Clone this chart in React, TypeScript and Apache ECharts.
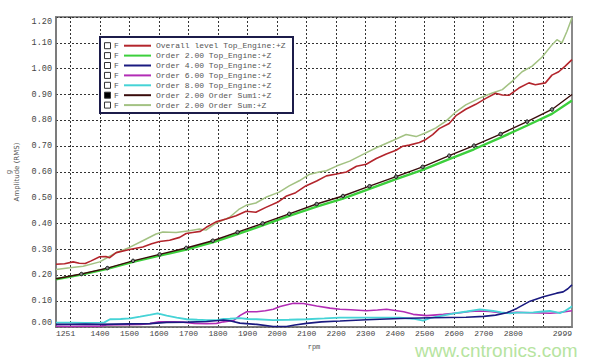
import { useEffect, useRef } from 'react';
import * as echarts from 'echarts';

// ---------- data ----------
const seriesNames = [
  'Overall level Top_Engine:+Z',
  'Order 2.00 Top_Engine:+Z',
  'Order 4.00 Top_Engine:+Z',
  'Order 6.00 Top_Engine:+Z',
  'Order 8.00 Top_Engine:+Z',
  'Order 2.00 Order Sum1:+Z',
  'Order 2.00 Order Sum:+Z',
];

const overallLevel: [number, number][] = [
  [1251, 0.243], [1280, 0.245], [1309, 0.252], [1330, 0.247], [1350, 0.246], [1370, 0.256],
  [1399, 0.272], [1420, 0.273], [1432, 0.268], [1455, 0.288], [1500, 0.300], [1545, 0.310],
  [1575, 0.322], [1602, 0.331], [1636, 0.336], [1670, 0.347], [1692, 0.362], [1714, 0.366],
  [1740, 0.370], [1760, 0.386], [1793, 0.407], [1827, 0.418], [1861, 0.431], [1895, 0.448],
  [1928, 0.444], [1962, 0.463], [2005, 0.485], [2030, 0.506], [2063, 0.520], [2097, 0.546],
  [2134, 0.565], [2167, 0.585], [2201, 0.592], [2235, 0.600], [2269, 0.622], [2302, 0.630],
  [2336, 0.652], [2370, 0.670], [2403, 0.684], [2426, 0.700], [2448, 0.704], [2482, 0.714],
  [2504, 0.726], [2527, 0.745], [2549, 0.768], [2583, 0.788], [2606, 0.818], [2639, 0.843],
  [2673, 0.862], [2707, 0.885], [2740, 0.905], [2763, 0.898], [2785, 0.897], [2819, 0.925],
  [2853, 0.945], [2875, 0.938], [2909, 0.945], [2931, 0.975], [2954, 0.988], [2976, 1.010],
  [2999, 1.035],
];

const order2Top: [number, number][] = [
  [1251, 0.185], [1337, 0.203], [1425, 0.225], [1512, 0.252], [1602, 0.276], [1692, 0.300],
  [1782, 0.328], [1866, 0.360], [1951, 0.393], [2041, 0.430], [2134, 0.466], [2223, 0.497],
  [2313, 0.535], [2403, 0.572], [2493, 0.608], [2583, 0.650], [2667, 0.688], [2757, 0.733],
  [2847, 0.780], [2931, 0.825], [2999, 0.877],
];

const order4Top: [number, number][] = [
  [1251, 0.010], [1300, 0.010], [1350, 0.011], [1400, 0.010], [1450, 0.011], [1500, 0.012],
  [1569, 0.013], [1626, 0.018], [1700, 0.019], [1761, 0.021], [1800, 0.025], [1818, 0.027],
  [1840, 0.024], [1874, 0.015], [1931, 0.010], [1987, 0.002], [2032, 0.002], [2060, 0.008],
  [2100, 0.014], [2150, 0.020], [2213, 0.023], [2303, 0.028], [2416, 0.033], [2520, 0.036],
  [2640, 0.038], [2700, 0.041], [2740, 0.046], [2778, 0.055], [2812, 0.072], [2857, 0.100],
  [2902, 0.117], [2947, 0.131], [2969, 0.136], [2985, 0.148], [2999, 0.163],
];

const order6Top: [number, number][] = [
  [1251, 0.003], [1300, 0.002], [1350, 0.003], [1400, 0.003], [1423, 0.008], [1480, 0.009],
  [1536, 0.010], [1569, 0.013], [1600, 0.020], [1650, 0.020], [1682, 0.019], [1720, 0.014],
  [1761, 0.013], [1795, 0.014], [1818, 0.020], [1852, 0.025], [1875, 0.045], [1897, 0.059],
  [1931, 0.059], [1960, 0.063], [1987, 0.069], [2010, 0.079], [2055, 0.092], [2089, 0.091],
  [2134, 0.081], [2179, 0.073], [2213, 0.069], [2250, 0.067], [2303, 0.063], [2340, 0.066],
  [2371, 0.069], [2400, 0.064], [2429, 0.059], [2461, 0.049], [2507, 0.044], [2563, 0.049],
  [2620, 0.055], [2653, 0.060], [2687, 0.062], [2721, 0.060], [2755, 0.055], [2789, 0.055],
  [2812, 0.057], [2857, 0.055], [2900, 0.054], [2924, 0.053], [2950, 0.055], [2981, 0.060],
  [2999, 0.063],
];

const order8Top: [number, number][] = [
  [1251, 0.017], [1300, 0.017], [1350, 0.016], [1400, 0.017], [1415, 0.018], [1434, 0.030],
  [1470, 0.031], [1502, 0.033], [1536, 0.040], [1569, 0.047], [1595, 0.053], [1626, 0.044],
  [1660, 0.036], [1694, 0.030], [1730, 0.028], [1761, 0.027], [1795, 0.027], [1818, 0.031],
  [1840, 0.032], [1874, 0.034], [1900, 0.031], [1931, 0.030], [1987, 0.027], [2040, 0.028],
  [2100, 0.030], [2160, 0.033], [2213, 0.036], [2303, 0.036], [2416, 0.036], [2460, 0.032],
  [2495, 0.025], [2520, 0.035], [2552, 0.042], [2600, 0.053], [2642, 0.060], [2687, 0.068],
  [2732, 0.062], [2760, 0.057], [2789, 0.053], [2812, 0.056], [2845, 0.056], [2868, 0.057],
  [2900, 0.060], [2924, 0.062], [2945, 0.058], [2958, 0.054], [2975, 0.062], [2992, 0.074],
  [2999, 0.080],
];

const orderSum1: [number, number][] = [
  [1251, 0.187], [1337, 0.205], [1425, 0.228], [1512, 0.256], [1602, 0.281], [1692, 0.306],
  [1782, 0.334], [1866, 0.367], [1951, 0.401], [2041, 0.438], [2134, 0.476], [2223, 0.507],
  [2313, 0.545], [2403, 0.582], [2493, 0.620], [2583, 0.663], [2667, 0.702], [2757, 0.747],
  [2847, 0.795], [2931, 0.842], [2999, 0.900],
];

const orderSum: [number, number][] = [
  [1251, 0.223], [1298, 0.229], [1343, 0.235], [1399, 0.252], [1427, 0.270], [1455, 0.288],
  [1500, 0.308], [1545, 0.334], [1590, 0.360], [1613, 0.368], [1658, 0.366], [1703, 0.373],
  [1737, 0.379], [1759, 0.375], [1793, 0.402], [1838, 0.424], [1870, 0.455], [1895, 0.471],
  [1928, 0.480], [1962, 0.502], [2007, 0.522], [2041, 0.546], [2075, 0.566], [2108, 0.590],
  [2142, 0.600], [2167, 0.605], [2201, 0.623], [2246, 0.642], [2291, 0.668], [2336, 0.694],
  [2392, 0.722], [2437, 0.745], [2471, 0.737], [2504, 0.752], [2538, 0.771], [2572, 0.797],
  [2606, 0.833], [2639, 0.860], [2684, 0.885], [2729, 0.906], [2763, 0.919], [2797, 0.952],
  [2830, 0.988], [2864, 1.010], [2898, 1.045], [2931, 1.092], [2948, 1.112], [2965, 1.100],
  [2982, 1.145], [2999, 1.197],
];

const xLabelValues = [1251, 1400, 1500, 1600, 1700, 1800, 1900, 2000, 2100, 2200, 2300, 2400, 2500, 2600, 2700, 2800, 2999];
const xGridValues = [1300, 1400, 1500, 1600, 1700, 1800, 1900, 2000, 2100, 2200, 2300, 2400, 2500, 2600, 2700, 2800, 2900];
const checkedRows = [false, false, false, false, false, true, false];

// ---------- styles ----------
const colors = ['#b3252c', '#3ccf3c', '#1a1a80', '#b22db5', '#45d3d6', '#3a0c0c', '#a3c283'];
const widths = [1.6, 2.4, 1.6, 1.6, 1.8, 1.4, 1.5];
const MONO = '"Liberation Mono", "DejaVu Sans Mono", monospace';

export default function App() {
  const ref = useRef<HTMLDivElement>(null);

  useEffect(() => {
    if (!ref.current) return;
    const chart = echarts.init(ref.current, null, { renderer: 'svg' });

    const dataSets = [overallLevel, order2Top, order4Top, order6Top, order8Top, orderSum1, orderSum];
    const zOrder = [3, 4, 6, 4, 5, 7, 2];

    const series: any[] = dataSets.map((d, i) => {
      const isSum1 = i === 5;
      return {
        type: 'line',
        name: seriesNames[i],
        data: isSum1
          ? d.map((p, k) => (k === 0 || k === d.length - 1 ? { value: p, symbolSize: 0 } : p))
          : d,
        showSymbol: isSum1,
        symbol: 'circle',
        symbolSize: isSum1 ? 3.5 : 0,
        itemStyle: isSum1 ? { color: '#8a8a8a', borderColor: '#111', borderWidth: 1 } : { color: colors[i] },
        lineStyle: { color: colors[i], width: widths[i] },
        z: zOrder[i],
        silent: true,
      };
    });

    // legend box as graphics
    const lx = 100, ly = 37, lw = 193, lh = 76;
    const rowY0 = 45.7, rowStep = 9.9;
    const legendChildren: any[] = [
      { type: 'rect', z: 100, shape: { x: lx, y: ly, width: lw, height: lh }, style: { fill: '#fff', stroke: '#1c1c4a', lineWidth: 2 } },
    ];
    seriesNames.forEach((name, i) => {
      const yc = rowY0 + i * rowStep;
      legendChildren.push(
        { type: 'rect', z: 101, shape: { x: 104.5, y: yc - 3, width: 6, height: 6 }, style: { fill: checkedRows[i] ? '#000' : '#fff', stroke: '#333', lineWidth: 1 } },
        { type: 'text', z: 101, x: 114, y: yc, style: { text: 'F', font: `8px ${MONO}`, fill: '#555', verticalAlign: 'middle' } },
        { type: 'line', z: 101, shape: { x1: 124, y1: yc, x2: 151, y2: yc }, style: { stroke: colors[i], lineWidth: 2 } },
        { type: 'text', z: 101, x: 156, y: yc, style: { text: name, font: `8px ${MONO}`, fill: '#555', verticalAlign: 'middle' } },
      );
    });

    chart.setOption({
      animation: false,
      backgroundColor: '#fff',
      grid: {
        left: 56, right: 28, top: 17, bottom: 33,
        containLabel: false, outerBoundsMode: 'none',
        show: true, borderColor: '#8a8a8a', borderWidth: 2, backgroundColor: '#fff',
      },
      xAxis: {
        type: 'value', min: 1251, max: 2999,
        name: 'rpm', nameLocation: 'middle', nameGap: 16,
        nameTextStyle: { fontFamily: MONO, fontSize: 7, color: '#555' },
        axisLine: { show: true, lineStyle: { color: '#777', width: 1.5 } },
        axisTick: { show: false, customValues: xGridValues },
        axisLabel: {
          customValues: xLabelValues, formatter: (v: number) => String(Math.round(v)),
          fontFamily: MONO, fontSize: 8, color: '#444', margin: 2,
          alignMinLabel: 'left', alignMaxLabel: 'right', hideOverlap: false,
        },
        splitLine: { show: true, lineStyle: { color: '#333', width: 1, type: [2, 2] } },
      },
      yAxis: {
        type: 'value', min: 0, max: 1.2, interval: 0.1,
        name: 'g\nAmplitude (RMS)', nameLocation: 'middle', nameRotate: 90, nameGap: 24,
        nameTextStyle: { fontFamily: '"DejaVu Sans", sans-serif', fontSize: 7, color: '#555', lineHeight: 8 },
        axisLine: { show: true, lineStyle: { color: '#777', width: 1.5 } },
        axisTick: { show: false },
        axisLabel: {
          formatter: (v: number) => v.toFixed(2), fontFamily: MONO, fontSize: 8.5, color: '#444', margin: 4,
          verticalAlignMinLabel: 'bottom', verticalAlignMaxLabel: 'top',
        },
        splitLine: { show: true, lineStyle: { color: '#333', width: 1, type: [2, 2] } },
      },
      series,
      graphic: [
        ...legendChildren,
        {
          type: 'text', x: 415, y: 350, z: 100,
          style: { text: 'www.cntronics.com', font: '19px "Liberation Sans", Arial, sans-serif', fill: '#b6e4a0', verticalAlign: 'middle' },
        },
      ],
    });

    return () => chart.dispose();
  }, []);

  return <div ref={ref} style={{ position: 'fixed', left: 0, top: 0, width: 600, height: 360 }} />;
}
